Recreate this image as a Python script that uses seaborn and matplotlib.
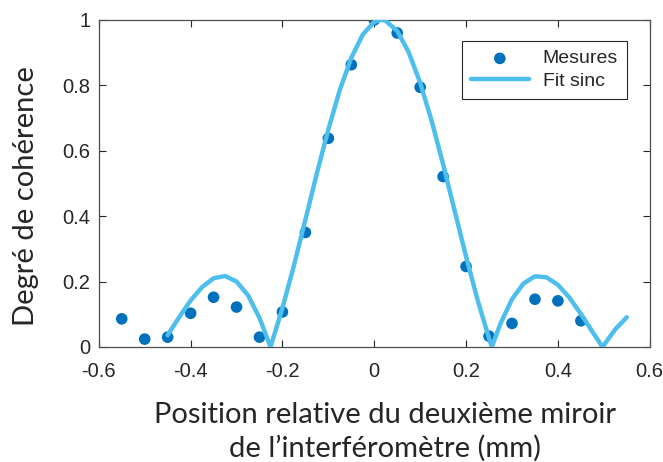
import matplotlib
matplotlib.use("Agg")
import matplotlib.pyplot as plt
import seaborn as sns
import pandas as pd

# Measured points
pos_mes = [-0.55, -0.50, -0.45, -0.40, -0.35, -0.30, -0.25, -0.20, -0.15, -0.10, -0.05,
           0.00, 0.05, 0.10, 0.15, 0.20, 0.25, 0.30, 0.35, 0.40, 0.45]
coh_mes = [0.086, 0.024, 0.030, 0.103, 0.152, 0.122, 0.030, 0.107, 0.350, 0.638, 0.863,
           1.000, 0.960, 0.794, 0.521, 0.246, 0.033, 0.072, 0.146, 0.141, 0.080]

# Fit curve
pos_fit = [-0.45, -0.425, -0.40, -0.375, -0.35, -0.325, -0.30, -0.275, -0.25, -0.226,
           -0.20, -0.175, -0.15, -0.125, -0.10, -0.075, -0.05, -0.025, 0.00, 0.015,
           0.025, 0.05, 0.075, 0.10, 0.125, 0.15, 0.175, 0.20, 0.225, 0.25, 0.256,
           0.275, 0.30, 0.325, 0.35, 0.375, 0.40, 0.425, 0.45, 0.475, 0.497, 0.525, 0.55]
coh_fit = [0.036, 0.091, 0.142, 0.183, 0.210, 0.217, 0.200, 0.158, 0.089, 0.0,
           0.119, 0.249, 0.389, 0.531, 0.665, 0.786, 0.884, 0.955, 0.994, 1.0,
           0.997, 0.966, 0.901, 0.808, 0.691, 0.558, 0.417, 0.276, 0.144, 0.026, 0.0,
           0.072, 0.146, 0.194, 0.216, 0.213, 0.190, 0.151, 0.101, 0.047, 0.0, 0.054, 0.091]

xticks = [-0.6, -0.4, -0.2, 0.0, 0.2, 0.4, 0.6]
xticklabels = ["-0.6", "-0.4", "-0.2", "0", "0.2", "0.4", "0.6"]
yticks = [0, 0.2, 0.4, 0.6, 0.8, 1.0]
yticklabels = ["0", "0.2", "0.4", "0.6", "0.8", "1"]

df_mes = pd.DataFrame({"x": pos_mes, "y": coh_mes})
df_fit = pd.DataFrame({"x": pos_fit, "y": coh_fit})

sns.set_style("ticks")
plt.rcParams["font.family"] = ["Liberation Sans", "DejaVu Sans"]
plt.rcParams["axes.unicode_minus"] = False

fig = plt.figure(figsize=(6.63, 4.62), dpi=100)
ax = fig.add_axes([0.149, 0.249, 0.831, 0.708])

sns.scatterplot(data=df_mes, x="x", y="y", ax=ax, color="#0072BD", s=70,
                edgecolor="none", label="Mesures", zorder=2)
sns.lineplot(data=df_fit, x="x", y="y", ax=ax, color="#4DBEEE", linewidth=3.2,
             label="Fit sinc", zorder=3, sort=False)

ax.set_xlim(-0.6, 0.6)
ax.set_ylim(0, 1)
ax.set_xticks(xticks)
ax.set_xticklabels(xticklabels)
ax.set_yticks(yticks)
ax.set_yticklabels(yticklabels)
ax.tick_params(direction="in", length=5, width=0.8, top=True, right=True,
               labelsize=14.5, colors="#262626")
ax.tick_params(axis="x", pad=11)
ax.tick_params(axis="y", pad=6)
for sp in ax.spines.values():
    sp.set_visible(True)
    sp.set_color("#4d4d4d")
    sp.set_linewidth(0.9)

ax.set_xlabel("Position relative du deuxième miroir\nde l’interféromètre (mm)",
              fontsize=21, family=["Lato", "DejaVu Sans"], labelpad=15, linespacing=1.3)
ax.xaxis.label.set_x(0.52)
ax.set_ylabel("Degré de cohérence", fontsize=21, family=["Lato", "DejaVu Sans"], labelpad=17)
ax.yaxis.label.set_y(0.46)

leg = ax.legend(loc="upper right", bbox_to_anchor=(0.958, 0.935), borderaxespad=0,
                fontsize=14, frameon=True, fancybox=False, edgecolor="#262626",
                framealpha=1, handlelength=3.0, borderpad=0.45, labelspacing=0.25,
                handletextpad=0.7)
leg.get_frame().set_linewidth(0.8)

fig.savefig("out.png", dpi=100)
